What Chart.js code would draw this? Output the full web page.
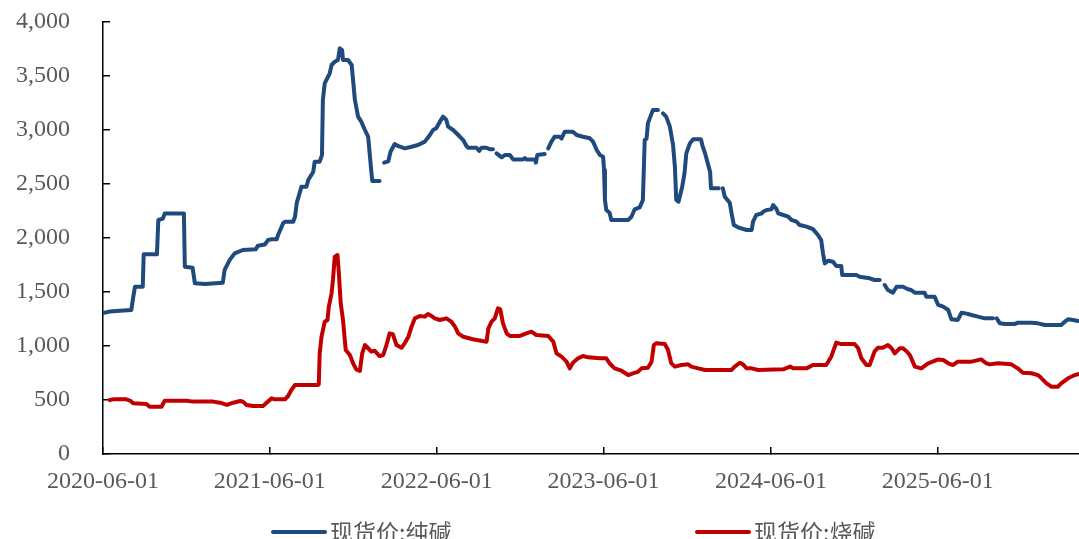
<!DOCTYPE html>
<html>
<head>
<meta charset="utf-8">
<script src="https://cdn.jsdelivr.net/npm/chart.js@4.4.1/dist/chart.umd.min.js"></script>
<style>
  html, body { margin: 0; padding: 0; background: #fff; }
  #wrap { width: 1079px; height: 539px; position: relative; }
</style>
</head>
<body>
<div id="wrap"><canvas id="priceChart"></canvas></div>
<script>
// 现货价:纯碱 (null = no quote, line breaks there)
const sodaDates = [
  "2020-06-01","2020-06-16","2020-07-08","2020-08-02","2020-08-06","2020-08-10","2020-08-27","2020-08-29",
  "2020-09-27","2020-09-30","2020-10-10","2020-10-14","2020-11-25","2020-11-27","2020-12-14","2020-12-19",
  "2021-01-10","2021-02-18","2021-02-22","2021-03-05","2021-03-16","2021-04-03","2021-05-01","2021-05-06",
  "2021-05-21","2021-05-28","2021-06-05","2021-06-16","2021-06-19","2021-06-30","2021-07-04","2021-07-22",
  "2021-07-26","2021-07-30","2021-08-05","2021-08-09","2021-08-20","2021-08-24","2021-09-04","2021-09-07",
  "2021-09-18","2021-09-23","2021-09-25","2021-09-29","2021-10-10","2021-10-14","2021-10-21","2021-10-28",
  "2021-11-01","2021-11-06","2021-11-08","2021-11-19","2021-11-27","2021-11-30","2021-12-04","2021-12-11",
  "2021-12-18","2021-12-26","2022-01-02","2022-01-08","2022-01-11","2022-01-27","2022-01-31","2022-02-06",
  "2022-02-15","2022-02-20","2022-03-01","2022-03-08","2022-03-23","2022-04-07","2022-04-21","2022-05-06",
  "2022-05-17","2022-05-24","2022-05-31","2022-06-08","2022-06-15","2022-06-22","2022-06-26","2022-07-07",
  "2022-07-18","2022-07-29","2022-08-05","2022-08-09","2022-08-27","2022-09-02","2022-09-07","2022-09-18",
  "2022-09-25","2022-10-02","2022-10-06","2022-10-10","2022-10-21","2022-10-28","2022-11-08","2022-11-15",
  "2022-12-07","2022-12-11","2022-12-14","2023-01-02","2023-01-04","2023-01-07","2023-01-23","2023-01-27",
  "2023-01-31","2023-02-07","2023-02-14","2023-02-25","2023-03-01","2023-03-08","2023-03-26","2023-04-03",
  "2023-04-17","2023-05-02","2023-05-09","2023-05-17","2023-05-24","2023-05-31","2023-06-02","2023-06-04",
  "2023-06-07","2023-06-14","2023-06-18","2023-07-25","2023-08-01","2023-08-08","2023-08-19","2023-08-26",
  "2023-08-30","2023-09-03","2023-09-06","2023-09-10","2023-09-17","2023-09-28","2023-10-03","2023-10-09",
  "2023-10-16","2023-10-24","2023-10-31","2023-11-04","2023-11-07","2023-11-12","2023-11-20","2023-11-25",
  "2023-11-29","2023-12-07","2023-12-14","2023-12-31","2024-01-03","2024-01-09","2024-01-15","2024-01-20",
  "2024-01-22","2024-02-08","2024-02-12","2024-02-17","2024-02-21","2024-03-03","2024-03-07","2024-03-12",
  "2024-03-21","2024-04-09","2024-04-20","2024-04-23","2024-04-30","2024-05-12","2024-05-15","2024-05-23",
  "2024-06-02","2024-06-06","2024-06-13","2024-06-17","2024-06-28","2024-07-09","2024-07-16","2024-07-27",
  "2024-08-03","2024-08-18","2024-09-01","2024-09-12","2024-09-19","2024-09-23","2024-09-27","2024-10-04",
  "2024-10-15","2024-10-22","2024-11-02","2024-11-04","2024-12-05","2024-12-12","2025-01-03","2025-01-14",
  "2025-01-25","2025-01-30","2025-02-05","2025-02-12","2025-02-23","2025-03-03","2025-03-17","2025-03-28",
  "2025-04-04","2025-04-12","2025-05-03","2025-05-07","2025-05-25","2025-06-02","2025-06-13","2025-06-24",
  "2025-07-01","2025-07-15","2025-07-23","2025-08-03","2025-08-14","2025-08-28","2025-09-12","2025-09-30",
  "2025-10-04","2025-10-08","2025-10-15","2025-10-26","2025-11-16","2025-11-23","2025-12-23","2026-01-06",
  "2026-01-21","2026-02-26","2026-03-06","2026-03-13","2026-03-24","2026-04-04"
];
const sodaPrices = [
  1305,1320,1327,1333,1450,1549,1549,1849,
  1849,2167,2180,2228,2228,1734,1725,1580,
  1574,1586,1704,1796,1858,1889,1895,1929,
  1940,1981,1988,1988,2028,2136,2151,2151,
  2197,2327,2413,2475,2475,2537,2614,2707,
  2707,2768,3278,3432,3525,3602,3632,3648,
  3756,3740,3648,3648,3602,3463,3278,3124,
  3077,3000,2938,2660,2528,2528,null,2698,
  2710,2799,2870,2852,2830,2845,2861,2892,
  2954,3000,3016,3077,3124,3093,3031,3000,
  2954,2907,2852,2836,2836,2806,2836,2836,
  2821,2821,null,2784,2747,2768,2768,2728,
  2728,2740,2728,2728,2698,2768,2778,null,
  2830,2892,2938,2938,2920,2984,2984,2954,
  2938,2923,2892,2815,2768,2753,2630,2352,
  2259,2234,2167,2167,2197,2266,2284,2352,
  2907,2920,3062,3108,3185,3185,null,3154,
  3124,3031,2861,2660,2352,2336,2475,2599,
  2784,2877,2914,2914,2861,2784,2691,2614,
  2460,2460,null,2460,2383,2327,2228,2120,
  2099,2074,2074,2151,2213,2228,2243,2259,
  2265,2305,2270,2228,2213,2197,2167,2151,
  2120,2105,2082,2028,1981,1858,1765,1790,
  1780,1741,1741,1657,1657,1642,1627,1611,
  1611,null,1565,1518,1494,1549,1549,1525,
  1518,1494,1494,1457,1457,1380,1364,1333,
  1247,1241,1308,1300,1287,1272,1256,1256,
  null,1256,1210,1203,1203,1216,1216,1210,
  1194,1194,1225,1247,1241,1232
];

// 现货价:烧碱
const causticDates = [
  "2020-06-16","2020-06-23","2020-07-22","2020-07-30","2020-08-06","2020-09-04","2020-09-11","2020-10-07",
  "2020-10-14","2020-12-01","2020-12-15","2021-01-28","2021-02-12","2021-02-27","2021-03-13","2021-03-28",
  "2021-04-03","2021-04-11","2021-04-25","2021-05-17","2021-05-28","2021-06-05","2021-06-12","2021-07-04",
  "2021-07-11","2021-07-18","2021-07-26","2021-09-14","2021-09-16","2021-09-18","2021-09-22","2021-09-29",
  "2021-10-05","2021-10-08","2021-10-14","2021-10-17","2021-10-21","2021-10-27","2021-10-30","2021-11-03",
  "2021-11-08","2021-11-14","2021-11-23","2021-11-30","2021-12-07","2021-12-15","2021-12-20","2021-12-26",
  "2022-01-02","2022-01-09","2022-01-16","2022-01-27","2022-02-04","2022-02-11","2022-02-18","2022-02-25",
  "2022-03-05","2022-03-16","2022-03-23","2022-03-31","2022-04-07","2022-04-14","2022-04-25","2022-05-06",
  "2022-05-13","2022-05-20","2022-05-28","2022-06-08","2022-06-22","2022-07-03","2022-07-11","2022-07-18",
  "2022-07-29","2022-08-19","2022-09-18","2022-09-22","2022-09-29","2022-10-06","2022-10-13","2022-10-18",
  "2022-10-24","2022-11-01","2022-11-08","2022-11-30","2022-12-14","2022-12-25","2023-01-05","2023-01-31",
  "2023-02-11","2023-02-18","2023-03-01","2023-03-12","2023-03-19","2023-03-26","2023-04-06","2023-04-17",
  "2023-04-28","2023-05-24","2023-06-07","2023-06-14","2023-06-25","2023-07-10","2023-07-25","2023-08-04",
  "2023-08-15","2023-08-23","2023-09-06","2023-09-14","2023-09-19","2023-09-24","2023-10-13","2023-10-20",
  "2023-10-27","2023-11-04","2023-11-18","2023-12-03","2023-12-10","2023-12-25","2024-01-09","2024-03-07",
  "2024-03-14","2024-03-25","2024-04-01","2024-04-09","2024-04-20","2024-05-04","2024-06-28","2024-07-13",
  "2024-07-20","2024-08-18","2024-09-01","2024-09-30","2024-10-11","2024-10-22","2024-11-02","2024-12-01",
  "2024-12-09","2024-12-16","2024-12-27","2025-01-03","2025-01-14","2025-01-21","2025-02-01","2025-02-12",
  "2025-02-20","2025-02-27","2025-03-10","2025-03-17","2025-03-25","2025-04-01","2025-04-12","2025-04-26",
  "2025-05-11","2025-06-02","2025-06-13","2025-06-24","2025-07-04","2025-07-15","2025-08-14","2025-09-04",
  "2025-09-15","2025-09-23","2025-10-11","2025-11-09","2025-11-23","2025-12-04","2025-12-23","2026-01-06",
  "2026-01-14","2026-01-25","2026-02-05","2026-02-19","2026-02-26","2026-03-13","2026-03-28","2026-04-04"
];
const causticPrices = [
  500,506,506,495,469,463,438,438,
  494,494,485,485,475,454,475,491,
  485,454,444,444,485,516,506,506,
  537,593,639,639,643,932,1086,1225,
  1240,1364,1488,1611,1827,1842,1673,1395,
  1241,963,917,840,784,770,932,1009,
  979,948,957,907,917,1009,1117,1110,
  1009,984,1025,1086,1179,1256,1278,1272,
  1296,1280,1256,1241,1256,1225,1179,1117,
  1086,1062,1040,1164,1225,1256,1349,1340,
  1210,1117,1093,1093,1117,1133,1102,1093,
  1040,932,901,855,793,845,886,907,
  895,886,886,840,793,771,731,747,
  760,793,798,855,1009,1025,1018,963,
  840,809,824,830,809,793,778,778,
  809,845,830,793,793,778,784,809,
  793,793,824,824,901,1031,1018,1018,
  979,886,824,824,951,984,984,1009,
  979,932,979,979,950,917,809,793,
  840,876,870,840,824,855,855,876,
  840,830,840,830,793,753,748,731,
  701,654,623,623,654,701,731,740
];

const xTickLabels = ["2020-06-01","2021-06-01","2022-06-01","2023-06-01","2024-06-01","2025-06-01"];
const xStart = "2020-06-01";
const xEnd = "2026-04-06";
const seriesNames = ["现货价:纯碱", "现货价:烧碱"];
const seriesColors = ["#1f4a7e", "#c00000"];

const tickFont = { family: "'Liberation Serif', 'Noto Sans CJK SC', serif", size: 24 };
const tickColor = "#595959";

function toPoints(dates, values) {
  return dates.map((d, i) => ({ x: Date.parse(d), y: values[i] }));
}

// legend drawn under the axis, two items spread apart like the original
const bottomLegend = {
  id: "bottomLegend",
  afterDraw(chart) {
    const ctx = chart.ctx;
    const left = chart.chartArea.left;
    const y = chart.height - 7;
    const starts = [left + 170, left + 594];
    ctx.save();
    ctx.font = "23px 'Noto Sans CJK SC', sans-serif";
    ctx.textBaseline = "middle";
    chart.data.datasets.forEach((ds, i) => {
      const x = starts[i];
      ctx.strokeStyle = ds.borderColor;
      ctx.lineWidth = 4;
      ctx.lineCap = "round";
      ctx.beginPath();
      ctx.moveTo(x, y);
      ctx.lineTo(x + 52, y);
      ctx.stroke();
      ctx.fillStyle = tickColor;
      ctx.fillText(ds.label, x + 57, y);
    });
    ctx.restore();
  }
};

document.addEventListener("DOMContentLoaded", function () {
  const data = {
    datasets: [
      {
        label: seriesNames[0],
        data: toPoints(sodaDates, sodaPrices),
        borderColor: seriesColors[0],
        backgroundColor: seriesColors[0],
        borderWidth: 4,
        pointRadius: 0,
        tension: 0,
        spanGaps: false,
        borderCapStyle: "round",
        borderJoinStyle: "round",
      },
      {
        label: seriesNames[1],
        data: toPoints(causticDates, causticPrices),
        borderColor: seriesColors[1],
        backgroundColor: seriesColors[1],
        borderWidth: 4,
        pointRadius: 0,
        tension: 0,
        borderCapStyle: "round",
        borderJoinStyle: "round",
      },
    ],
  };

  const config = {
    type: "line",
    data: data,
    plugins: [bottomLegend],
    options: {
      responsive: true,
      maintainAspectRatio: false,
      animation: false,
      layout: { padding: { left: 0, right: 0, top: 22, bottom: 45 } },
      scales: {
        x: {
          type: "linear",
          min: Date.parse(xStart),
          max: Date.parse(xEnd),
          afterBuildTicks: (scale) => {
            scale.ticks = xTickLabels.map((d) => ({ value: Date.parse(d) }));
          },
          afterFit: (scale) => { scale.height = 40; },
          ticks: {
            autoSkip: false,
            maxRotation: 0,
            padding: 20,
            font: tickFont,
            color: tickColor,
            callback: (v) => new Date(v).toISOString().slice(0, 10),
          },
          grid: { drawOnChartArea: false, tickLength: -7, color: "#000", lineWidth: 1.5 },
          border: { color: "#000", width: 1.5 },
        },
        y: {
          min: 0,
          max: 4000,
          afterFit: (scale) => {
            scale.width = 103;
            scale.paddingTop = 0;
            scale.paddingBottom = 0;
          },
          ticks: {
            stepSize: 500,
            padding: 40,
            font: tickFont,
            color: tickColor,
            callback: (v) => v.toLocaleString("en-US"),
          },
          grid: { drawOnChartArea: false, tickLength: -7, color: "#000", lineWidth: 1.5 },
          border: { color: "#000", width: 1.5 },
        },
      },
      plugins: {
        legend: { display: false },
        tooltip: { enabled: false },
        title: { display: false },
      },
    },
  };

  const ctx = document.getElementById("priceChart").getContext("2d");
  new Chart(ctx, config);
});
</script>
</body>
</html>
